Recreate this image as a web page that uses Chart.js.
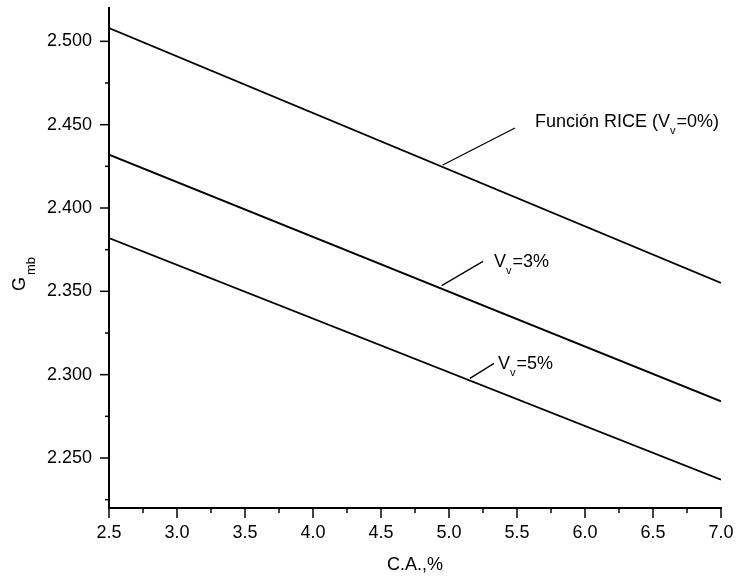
<!DOCTYPE html>
<html><head><meta charset="utf-8">
<script src="https://cdn.jsdelivr.net/npm/chart.js@4"></script>
<style>html,body{margin:0;padding:0;background:#fff}</style>
</head><body>
<canvas id="c" width="738" height="577"></canvas>
<script>
// ---- data ----
const caPercent = [2.5, 7.0];                 // C.A., %
const gmbRice   = [2.508, 2.355];             // Función RICE (Vv=0%)
const gmbVv3    = [2.432, 2.284];             // Vv=3%
const gmbVv5    = [2.382, 2.237];             // Vv=5%
const seriesNames = ['Función RICE (Vv=0%)', 'Vv=3%', 'Vv=5%'];
const xRange = [2.5, 7.0];
const yRange = [2.22, 2.52];
const xMajorTicks = [2.5, 3.0, 3.5, 4.0, 4.5, 5.0, 5.5, 6.0, 6.5, 7.0];
const xMinorTicks = [2.75, 3.25, 3.75, 4.25, 4.75, 5.25, 5.75, 6.25, 6.75];
const yMajorTicks = [2.25, 2.30, 2.35, 2.40, 2.45, 2.50];
const yMinorTicks = [2.225, 2.275, 2.325, 2.375, 2.425, 2.475];

// annotation labels: leader line start (on curve) / end, text anchor = left/baseline (data coords)
const annotations = [
  {from:[4.954, 2.4258], to:[5.485, 2.448],  at:[5.632, 2.4488], parts:[['Función RICE (V',0],['v',1],['=0%)',0]]},
  {from:[4.946, 2.3534], to:[5.250, 2.368],  at:[5.331, 2.3648], parts:[['V',0],['v',1],['=3%',0]]},
  {from:[5.154, 2.2978], to:[5.331, 2.3068], at:[5.360, 2.3034], parts:[['V',0],['v',1],['=5%',0]]}
];

const FONT = '"Liberation Sans", Arial, sans-serif';
const toPts = (xs, ys) => xs.map((x, i) => ({x, y: ys[i]}));
const mkTicks = (maj, min) => maj.map(v => ({value: v, major: true}))
  .concat(min.map(v => ({value: v, major: false})))
  .sort((a, b) => a.value - b.value);

const decor = {
  id: 'decor',
  afterDraw(chart) {
    const ctx = chart.ctx, xs = chart.scales.x, ys = chart.scales.y;
    const area = chart.chartArea;
    ctx.save();
    ctx.strokeStyle = '#000';
    ctx.lineWidth = 1.5;
    ys.ticks.forEach(t => {
      const p = ys.getPixelForValue(t.value);
      const len = t.major ? 9 : 4;
      ctx.beginPath(); ctx.moveTo(area.left - len, p); ctx.lineTo(area.left, p); ctx.stroke();
    });
    xs.ticks.forEach(t => {
      const p = xs.getPixelForValue(t.value);
      const len = t.major ? 10 : 5;
      ctx.beginPath(); ctx.moveTo(p, area.bottom); ctx.lineTo(p, area.bottom + len); ctx.stroke();
    });
    // annotations
    ctx.lineWidth = 1.3;
    ctx.fillStyle = '#000';
    ctx.textBaseline = 'alphabetic';
    annotations.forEach(a => {
      ctx.beginPath();
      ctx.moveTo(xs.getPixelForValue(a.from[0]), ys.getPixelForValue(a.from[1]));
      ctx.lineTo(xs.getPixelForValue(a.to[0]), ys.getPixelForValue(a.to[1]));
      ctx.stroke();
      let x = xs.getPixelForValue(a.at[0]);
      const y = ys.getPixelForValue(a.at[1]);
      a.parts.forEach(([txt, sub]) => {
        ctx.font = (sub ? '11px ' : '18px ') + FONT;
        ctx.fillText(txt, x, sub ? y + 7 : y);
        x += ctx.measureText(txt).width + (sub ? 1 : 0);
      });
    });
    // y axis title G_mb (rotated)
    ctx.translate(25, 291);
    ctx.rotate(-Math.PI / 2);
    ctx.font = '18px ' + FONT;
    ctx.fillText('G', 0, 0);
    const wG = ctx.measureText('G').width;
    ctx.font = '13px ' + FONT;
    ctx.fillText('mb', wG + 2, 10);
    ctx.restore();
  }
};

function noPad(s) { s.paddingTop = 0; s.paddingBottom = 0; s.paddingLeft = 0; s.paddingRight = 0; }

new Chart(document.getElementById('c'), {
  type: 'line',
  data: {
    datasets: [
      {label: seriesNames[0], data: toPts(caPercent, gmbRice)},
      {label: seriesNames[1], data: toPts(caPercent, gmbVv3)},
      {label: seriesNames[2], data: toPts(caPercent, gmbVv5)}
    ].map(d => Object.assign(d, {borderColor:'#000', borderWidth:1.8, pointRadius:0, fill:false, tension:0}))
  },
  options: {
    responsive: false, animation: false, devicePixelRatio: 1,
    layout: {padding: {left: 0, right: 17, top: 8, bottom: 0}},
    plugins: {legend: {display: false}, tooltip: {enabled: false}},
    scales: {
      x: {
        type: 'linear', min: xRange[0], max: xRange[1],
        afterBuildTicks(s) { s.ticks = mkTicks(xMajorTicks, xMinorTicks); },
        afterFit(s) { s.height = 69; noPad(s); },
        border: {display: true, color: '#000', width: 2},
        grid: {display: false, drawTicks: false},
        ticks: {autoSkip: false, maxRotation: 0, padding: 14, color: '#000',
          font: {family: FONT, size: 18},
          callback: function (v, i, ticks) { return ticks[i].major ? v.toFixed(1) : ''; }},
        title: {display: true, text: 'C.A.,%', color: '#000', font: {family: FONT, size: 18}, padding: {top: 0, bottom: 1}}
      },
      y: {
        type: 'linear', min: yRange[0], max: yRange[1],
        afterBuildTicks(s) { s.ticks = mkTicks(yMajorTicks, yMinorTicks); },
        afterFit(s) { s.width = 109; noPad(s); },
        border: {display: true, color: '#000', width: 2},
        grid: {display: false, drawTicks: false},
        ticks: {autoSkip: false, padding: 17, color: '#000',
          font: {family: FONT, size: 18},
          callback: function (v, i, ticks) { return ticks[i].major ? v.toFixed(3) : ''; }}
      }
    }
  },
  plugins: [decor]
});
</script>
</body></html>
